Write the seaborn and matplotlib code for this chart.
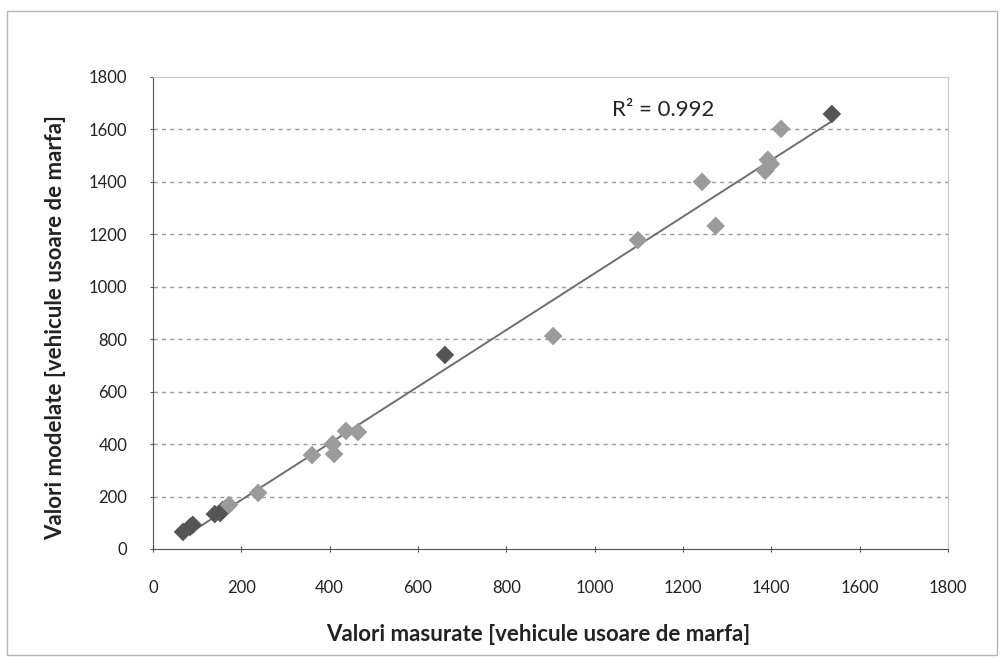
"""
Valori modelate vs valori masurate - vehicule usoare de marfa
"""

import numpy as np
import pandas as pd
import seaborn as sns
import matplotlib.pyplot as plt
from matplotlib.patches import Rectangle

# -------------------------------
# Data
# -------------------------------
measured = [68, 84, 90, 140, 152, 158, 172, 238, 360, 407, 410, 437, 464,
            661, 906, 1098, 1243, 1274, 1386, 1392, 1399, 1422, 1537]
modelled = [65, 84, 92, 133, 137, 149, 168, 214, 358, 400, 362, 450, 446,
            740, 812, 1178, 1400, 1232, 1442, 1484, 1468, 1602, 1659]
tone = ["dark", "dark", "dark", "dark", "dark", "dark", "light", "light", "light",
        "light", "light", "light", "light", "dark", "light", "light", "light",
        "light", "light", "light", "light", "light", "dark"]
r2_label = "R² = 0.992"
ticks = list(range(0, 2000, 200))

df = pd.DataFrame({"measured": measured, "modelled": modelled, "tone": tone})

# -------------------------------
# Style
# -------------------------------
sns.set_style("white")
plt.rcParams["font.family"] = ["Lato", "DejaVu Sans"]

fig = plt.figure(figsize=(10, 6.58), dpi=100)
fig.patches.append(Rectangle((0.007, 0.005), 0.99, 0.978, transform=fig.transFigure,
                             fill=False, edgecolor="#b5b5b5", linewidth=1.0))
ax = fig.add_axes([0.153, 0.1657, 0.795, 0.7173])

# trend line (linear fit)
slope, intercept = np.polyfit(df["measured"], df["modelled"], 1)
xs = np.array([min(measured), max(measured)])
ax.plot(xs, slope * xs + intercept, color="#6e6e6e", linewidth=1.4, zorder=2)

sns.scatterplot(data=df, x="measured", y="modelled", hue="tone",
                palette={"light": "#9b9b9b", "dark": "#555555"},
                marker="D", s=90, edgecolor="none", legend=False, ax=ax, zorder=3)

# -------------------------------
# Axes
# -------------------------------
ax.set_xlim(0, 1800)
ax.set_ylim(0, 1800)
ax.set_xticks(ticks)
ax.set_yticks(ticks)
ax.tick_params(axis="both", labelsize=12, colors="#555555", labelcolor="#222222",
               length=5, direction="inout", bottom=True, left=True)
ax.tick_params(axis="x", pad=20)
ax.tick_params(axis="y", pad=16)
for t in ticks[1:-1]:
    ax.axhline(t, color="#9a9a9a", linestyle=(0, (3, 3)), linewidth=1.0, zorder=1)

for side in ["top", "right"]:
    ax.spines[side].set_color("#c8c8c8")
for side in ["left", "bottom"]:
    ax.spines[side].set_color("#555555")

ax.set_xlabel("Valori masurate [vehicule usoare de marfa]", fontsize=16,
              fontweight="bold", color="#222222")
ax.set_ylabel("Valori modelate [vehicule usoare de marfa]", fontsize=16,
              fontweight="bold", color="#222222")
ax.xaxis.set_label_coords(0.485, -0.182)
ax.yaxis.set_label_coords(-0.123, 0.47)
ax.xaxis.label.set_va("center")
ax.yaxis.label.set_va("center")

ax.text(1040, 1674, r2_label, fontsize=16, color="#222222", va="center", ha="left")

plt.savefig("out.png", dpi=100)
plt.close()
